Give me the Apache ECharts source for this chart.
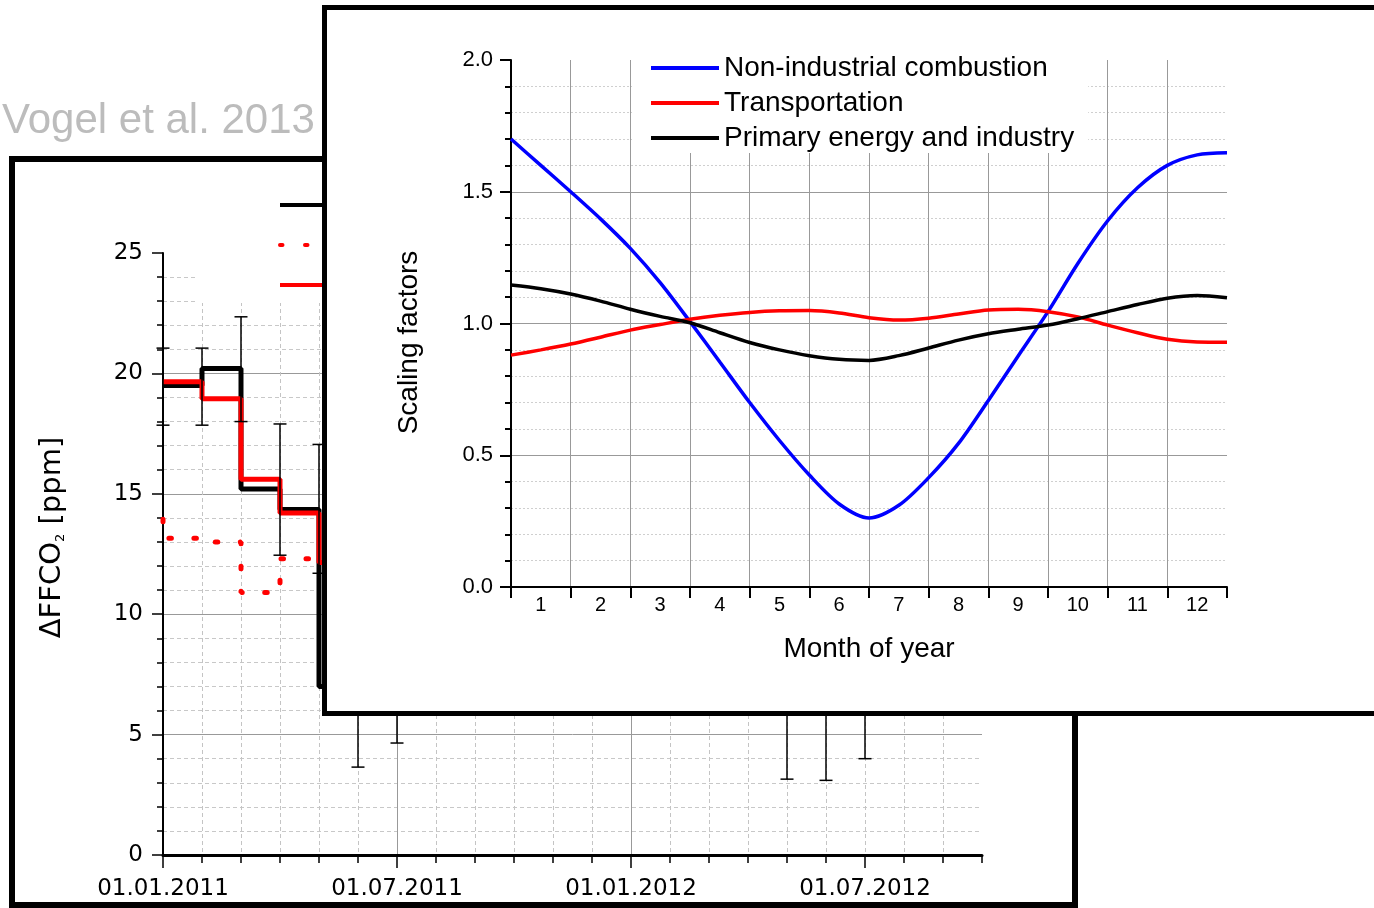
<!DOCTYPE html>
<html>
<head>
<meta charset="utf-8">
<script src="https://cdn.jsdelivr.net/npm/echarts@6/dist/echarts.min.js"></script>
<style>
  html, body { margin: 0; padding: 0; background: #fff; }
  body { width: 1374px; height: 908px; position: relative; overflow: hidden; }
  #backPanel { position: absolute; left: 9px; top: 156px; width: 1069px; height: 752px;
    border: 6px solid #000; box-sizing: border-box; background: #fff; }
  #back { position: absolute; left: 0; top: 0; width: 1374px; height: 908px; }
  #frontPanel { position: absolute; left: 322px; top: 5px; width: 1070px; height: 711px;
    border: 5px solid #000; box-sizing: border-box; background: #fff; overflow: hidden; }
  #front { position: absolute; left: 0; top: 0; width: 1060px; height: 701px; }
</style>
</head>
<body>
<div id="backPanel"></div>
<div id="back"></div>
<div id="frontPanel"><div id="front"></div></div>
<script>
// ---- back chart: monthly dFFCO2 (Dec 2010 .. Sep 2012), x = month index from Jan 2011
const months = ['2010-12', '2011-01', '2011-02', '2011-03', '2011-04', '2011-05', '2011-06',
  '2011-07', '2011-08', '2011-09', '2011-10', '2011-11', '2011-12', '2012-01', '2012-02',
  '2012-03', '2012-04', '2012-05', '2012-06', '2012-07', '2012-08', '2012-09']
// values after May 2011 are hidden under the inset, rough estimates only
const measured = [null, 19.5, 20.2, 15.2, 14.35, 7.0, 8.2, 8.8, 9.6, 10.8, 13.0, 15.5, 17.8,
  18.6, 17.2, 14.3, 11.2, 8.1, 7.6, 8.3, 9.5, 10.4]
const modelSeasonal = [null, 19.65, 18.95, 15.6, 14.2, 12.15, 11.4, 11.1, 11.7, 12.6, 14.2,
  16.3, 18.4, 19.1, 17.7, 15.4, 13.2, 11.7, 11.1, 11.0, 11.4, 12.1]
const modelConstant = [14.4, 13.15, 13.0, 10.9, 12.3, 12.2, 12.9, 13.2, 13.4, 13.1, 12.8,
  13.3, 13.6, 13.4, 13.0, 12.1, 11.5, 11.9, 12.4, 12.8, 13.1, 13.3]

const errMonths = ['2011-01', '2011-02', '2011-03', '2011-04', '2011-05', '2011-06', '2011-07',
  '2012-05', '2012-06', '2012-07']
const errLow = [17.85, 17.85, 18.0, 12.45, 11.7, 3.65, 4.65, 3.15, 3.1, 4.0]
const errHigh = [21.05, 21.05, 22.35, 17.9, 17.05, 12.7, 12.9, 13.1, 12.1, 12.6]

const majorTicks = ['2011-01', '2011-07', '2012-01', '2012-07']
const majorLabels = ['01.01.2011', '01.07.2011', '01.01.2012', '01.07.2012']

// ---- inset: monthly scaling factors
const monthPos = [0, 0.5, 1, 1.5, 2, 2.5, 3, 3.5, 4, 4.5, 5, 5.5, 6, 6.5, 7, 7.5, 8, 8.5, 9,
  9.5, 10, 10.5, 11, 11.5, 12]
const nonIndustrial = [1.70, 1.60, 1.50, 1.397, 1.285, 1.155, 1.007, 0.854, 0.70, 0.556, 0.425,
  0.315, 0.262, 0.31, 0.415, 0.545, 0.708, 0.877, 1.045, 1.228, 1.39, 1.515, 1.600, 1.640, 1.648]
const transportation = [0.88, 0.90, 0.922, 0.948, 0.975, 0.996, 1.016, 1.031, 1.042, 1.048,
  1.049, 1.04, 1.022, 1.013, 1.02, 1.036, 1.051, 1.054, 1.045, 1.025, 0.994, 0.965, 0.94, 0.93, 0.929]
const primaryEnergy = [1.146, 1.132, 1.112, 1.085, 1.054, 1.027, 1.003, 0.965, 0.928, 0.90,
  0.878, 0.864, 0.860, 0.878, 0.907, 0.937, 0.961, 0.978, 0.994, 1.018, 1.045, 1.072, 1.096, 1.106, 1.098]
const monthLabels = ['1', '2', '3', '4', '5', '6', '7', '8', '9', '10', '11', '12']

const idx = m => months.indexOf(m) - 1
const toPairs = arr => arr.map((v, i) => [i - 1, v])

const backChart = echarts.init(document.getElementById('back'))
const tickStyle = { color: '#000', width: 1.5 }

backChart.setOption({
  animation: false,
  textStyle: { fontFamily: 'DejaVu Sans' },
  graphic: [{
    type: 'text', left: 2, top: 100,
    style: { text: 'Vogel et al. 2013', font: '42px "Liberation Sans"', fill: '#bcbcbc' },
  }],
  legend: {
    orient: 'vertical',
    left: 195,
    top: 165,
    padding: [33, 10, 11, 83],
    itemWidth: 60,
    itemHeight: 14,
    itemGap: 26,
    backgroundColor: '#fff',
    textStyle: { fontSize: 14, lineHeight: 14, color: '#000' },
    lineStyle: { width: 4 },
    itemStyle: { opacity: 0, borderWidth: 0 },
    data: ['14C-based', 'Model, constant emissions', 'Model, seasonal emissions'],
  },
  grid: { left: 163, top: 253, width: 819, height: 602 },
  xAxis: [
    {
      type: 'value', min: 0, max: 21, interval: 1, position: 'bottom',
      axisLine: { onZero: false, lineStyle: { color: '#000', width: 3 } },
      axisTick: { show: true, length: 8, lineStyle: tickStyle },
      axisLabel: { show: false },
      splitLine: { show: true, showMaxLine: false, lineStyle: { color: '#c4c4c4', type: [4, 3] } },
    },
    {
      type: 'value', min: 0, max: 21, interval: 6, position: 'bottom',
      axisLine: { show: false, onZero: false },
      axisTick: { show: true, length: 13, customValues: majorTicks.map(idx), lineStyle: tickStyle },
      axisLabel: {
        customValues: majorTicks.map(idx),
        fontSize: 23, color: '#000', margin: 23,
        formatter: v => majorLabels[majorTicks.map(idx).indexOf(v)] || '',
      },
      splitLine: { show: true, showMaxLine: false, lineStyle: { color: '#999', width: 1 } },
    },
  ],
  yAxis: {
    type: 'value', min: 0, max: 25, interval: 5,
    name: '{a|ΔFFCO}{s|2}{a| [ppm]}',
    nameLocation: 'middle',
    nameGap: 96,
    nameTextStyle: {
      color: '#000', padding: [0, 0, 0, 33],
      rich: {
        a: { fontSize: 29, lineHeight: 29, color: '#000', fontFamily: 'DejaVu Sans', verticalAlign: 'bottom' },
        s: { fontSize: 13, color: '#000', fontFamily: 'DejaVu Sans', verticalAlign: 'bottom' },
      },
    },
    axisLine: { show: true, lineStyle: { color: '#000', width: 2 } },
    axisTick: { show: true, length: 11, lineStyle: tickStyle },
    minorTick: { show: true, splitNumber: 5, length: 6, lineStyle: tickStyle },
    axisLabel: { fontSize: 23, color: '#000', margin: 20 },
    splitLine: { show: true, showMaxLine: false, lineStyle: { color: '#999', width: 1 } },
    minorSplitLine: { show: true, lineStyle: { color: '#c8c8c8', type: [4, 3] } },
  },
  series: [
    {
      name: '14C-based', type: 'line', step: 'end', symbol: 'none', showSymbol: false,
      lineStyle: { color: '#000', width: 5 }, itemStyle: { color: '#000' },
      data: toPairs(measured),
    },
    {
      name: 'Model, constant emissions', type: 'line', step: 'end', symbol: 'none', showSymbol: false,
      lineStyle: { color: '#ff0000', width: 5, type: [2.5, 22.5], cap: 'round' },
      itemStyle: { color: '#ff0000' },
      data: toPairs(modelConstant),
    },
    {
      name: 'Model, seasonal emissions', type: 'line', step: 'end', symbol: 'none', showSymbol: false,
      lineStyle: { color: '#ff0000', width: 5 }, itemStyle: { color: '#ff0000' },
      data: toPairs(modelSeasonal),
    },
    {
      type: 'custom',
      renderItem(params, api) {
        const x = api.value(0)
        const lo = api.coord([x, api.value(1)])
        const hi = api.coord([x, api.value(2)])
        const cap = 6.5
        const style = { stroke: '#000', lineWidth: 1.5 }
        return {
          type: 'group',
          children: [
            { type: 'line', shape: { x1: lo[0], y1: lo[1], x2: hi[0], y2: hi[1] }, style },
            { type: 'line', shape: { x1: lo[0] - cap, y1: lo[1], x2: lo[0] + cap, y2: lo[1] }, style },
            { type: 'line', shape: { x1: hi[0] - cap, y1: hi[1], x2: hi[0] + cap, y2: hi[1] }, style },
          ],
        }
      },
      data: errMonths.map((m, i) => [idx(m), errLow[i], errHigh[i]]),
      z: 5,
    },
  ],
})

// ---- inset chart
const frontChart = echarts.init(document.getElementById('front'))
const blackLine = { color: '#000', width: 2 }

frontChart.setOption({
  animation: false,
  textStyle: { fontFamily: 'Liberation Sans' },
  legend: {
    orient: 'vertical',
    left: 305,
    top: 10,
    padding: [33, 14, 0, 17],
    itemWidth: 68,
    itemHeight: 14,
    itemGap: 5,
    backgroundColor: '#fff',
    textStyle: { fontSize: 28, lineHeight: 30, color: '#000' },
    lineStyle: { width: 4 },
    itemStyle: { opacity: 0, borderWidth: 0 },
    data: ['Non-industrial combustion', 'Transportation', 'Primary energy and industry'],
  },
  grid: { left: 184, top: 50, width: 716, height: 527 },
  xAxis: [
    {
      type: 'value', min: 0, max: 12, interval: 1, position: 'bottom',
      name: 'Month of year', nameLocation: 'middle', nameGap: 48,
      nameTextStyle: { fontSize: 28, color: '#000' },
      axisLine: { onZero: false, lineStyle: blackLine },
      axisTick: { show: true, length: 11, lineStyle: blackLine },
      axisLabel: { show: false },
      splitLine: { show: true, showMaxLine: false, lineStyle: { color: '#999', width: 1 } },
    },
    {
      type: 'category', data: monthLabels, boundaryGap: true, position: 'bottom',
      axisLine: { show: false, onZero: false },
      axisTick: { show: false },
      axisLabel: { fontSize: 20, color: '#000', margin: 8, interval: 0 },
      splitLine: { show: false },
    },
  ],
  yAxis: {
    type: 'value', min: 0, max: 2, interval: 0.5,
    name: 'Scaling factors', nameLocation: 'middle', nameGap: 88,
    nameTextStyle: { fontSize: 28, color: '#000', padding: [0, 38, 0, 0] },
    axisLine: { show: true, lineStyle: blackLine },
    axisTick: { show: true, length: 11, lineStyle: blackLine },
    minorTick: { show: true, splitNumber: 5, length: 6, lineStyle: blackLine },
    axisLabel: { fontSize: 22, color: '#000', margin: 18, formatter: v => v.toFixed(1) },
    splitLine: { show: true, showMaxLine: false, lineStyle: { color: '#999', width: 1 } },
    minorSplitLine: { show: true, lineStyle: { color: '#cfcfcf', type: [2, 2] } },
  },
  series: [
    {
      name: 'Non-industrial combustion', type: 'line', smooth: 0.3,
      symbol: 'none', showSymbol: false,
      lineStyle: { color: '#0000ff', width: 3.5 }, itemStyle: { color: '#0000ff' },
      data: monthPos.map((x, i) => [x, nonIndustrial[i]]),
    },
    {
      name: 'Transportation', type: 'line', smooth: 0.3,
      symbol: 'none', showSymbol: false,
      lineStyle: { color: '#ff0000', width: 3.5 }, itemStyle: { color: '#ff0000' },
      data: monthPos.map((x, i) => [x, transportation[i]]),
    },
    {
      name: 'Primary energy and industry', type: 'line', smooth: 0.3,
      symbol: 'none', showSymbol: false,
      lineStyle: { color: '#000', width: 3.5 }, itemStyle: { color: '#000' },
      data: monthPos.map((x, i) => [x, primaryEnergy[i]]),
    },
  ],
})
</script>
</body>
</html>
